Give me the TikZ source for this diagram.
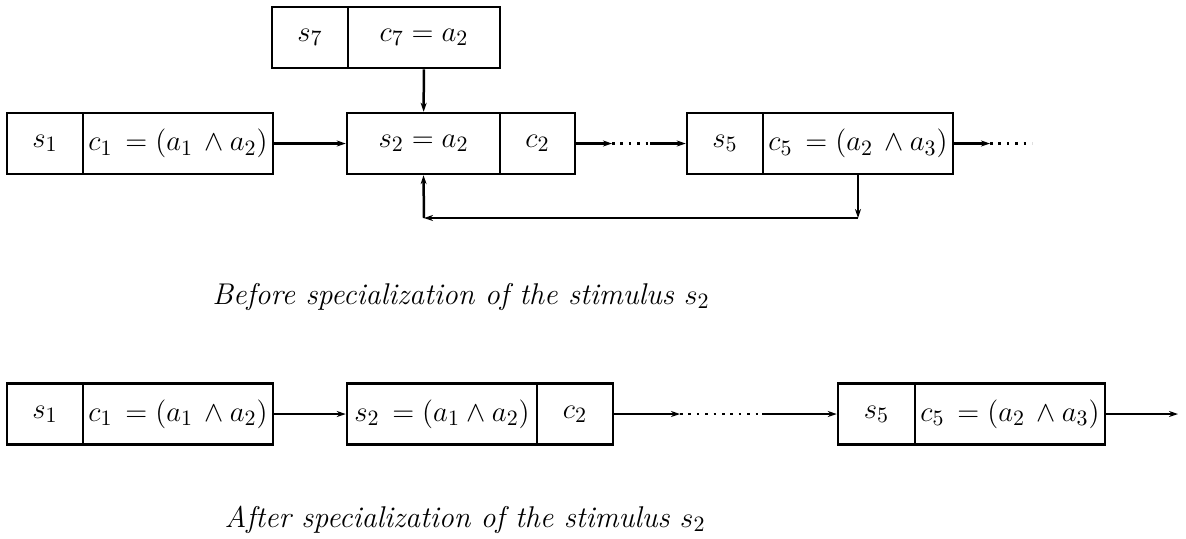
\documentclass[tikz,border=0pt]{standalone}
\usetikzlibrary{arrows.meta}

\begin{document}
\begin{tikzpicture}[x=0.5pt,y=-0.5pt,
    cell/.style={draw,line width=1.25pt,minimum height=30.5pt,inner sep=0pt,
        font=\fontsize{15}{18}\selectfont},
    link/.style={line width=1.25pt,-{Stealth[length=4.5pt,width=3pt]}},
    dots/.style={line width=1.3pt,dash pattern=on 1.3pt off 2.9pt}]
    \useasboundingbox (0,0) rectangle (1186,538);

    % before specialization
    \node [cell,minimum width=38pt] (s7) at (310,37.5) {$s_7$};
    \node [cell,minimum width=76pt] (c7) at (424,37.5) {$c_7 = a_2$};

    \node [cell,minimum width=38pt] (s1) at (45,143.5) {$s_1$};
    \node [cell,minimum width=95pt] (c1) at (178,143.5) {$c_1 \,= (a_1\, \wedge a_2)$};
    \node [cell,minimum width=76.5pt] (s2) at (423.5,143.5) {$s_2 = a_2$};
    \node [cell,minimum width=37.5pt] (c2) at (537.5,143.5) {$c_2$};
    \node [cell,minimum width=38pt] (s5) at (725,143.5) {$s_5$};
    \node [cell,minimum width=95pt] (c5) at (858,143.5) {$c_5 \,= (a_2\, \wedge a_3)$};

    \coordinate (d1) at (612,143.5);
    \coordinate (d2) at (650,143.5);
    \coordinate (e1) at (990,143.5);
    \coordinate (e2) at (1032,143.5);
    \coordinate (f1) at (858,218);
    \coordinate (f2) at (424,218);

    \draw [link] (c1) -- (s2);
    \draw [link] (c2) -- (d1);
    \draw [dots] (d1) -- (d2);
    \draw [link] (d2) -- (s5);
    \draw [link] (c5) -- (e1);
    \draw [dots] (e1) -- (e2);
    \draw [link] (c7) -- (s2);
    \draw [link] (c5.south) -- (f1);
    \draw [link] (f1) -- (f2);
    \draw [link] (f2) -- (s2.south);

    \node [font=\fontsize{15}{18}\selectfont\itshape] (cap1) at (461,297)
        {Before specialization of the stimulus $s_2$};

    % after specialization
    \node [cell,minimum width=38pt] (s1') at (45,414) {$s_1$};
    \node [cell,minimum width=95pt] (c1') at (178,414) {$c_1 \,= (a_1\, \wedge a_2)$};
    \node [cell,minimum width=95pt] (s2') at (442,414) {$s_2 \,= (a_1 \wedge a_2)$};
    \node [cell,minimum width=38pt] (c2') at (575,414) {$c_2$};
    \node [cell,minimum width=38.5pt] (s5') at (876.5,414) {$s_5$};
    \node [cell,minimum width=95pt] (c5') at (1010,414) {$c_5 \,= (a_2\, \wedge a_3)$};

    \coordinate (d1') at (680,414);
    \coordinate (d2') at (762,414);
    \coordinate (e1') at (1178,414);

    \draw [link] (c1') -- (s2');
    \draw [link] (c2') -- (d1');
    \draw [dots] (d1') -- (d2');
    \draw [link] (d2') -- (s5');
    \draw [link] (c5') -- (e1');

    \node [font=\fontsize{15}{18}\selectfont\itshape] (cap2) at (465,520)
        {After specialization of the stimulus $s_2$};
\end{tikzpicture}
\end{document}
